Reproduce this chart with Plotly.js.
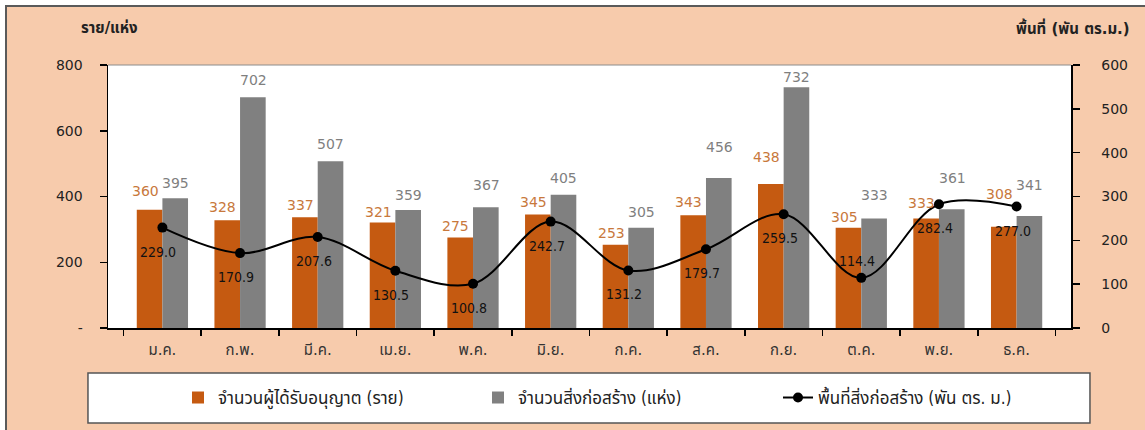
<!DOCTYPE html>
<html>
<head>
<meta charset="utf-8">
<script src="https://cdn.plot.ly/plotly-3.0.1.min.js"></script>
<style>
  html, body { margin: 0; padding: 0; background: #ffffff; overflow: hidden; width: 1145px; height: 430px; }
  #frame { position: absolute; left: 5px; top: 5px; width: 1138px; height: 423px; border-left: 2px solid #5a5a5a; border-top: 2px solid #5a5a5a; }
  #chart { width: 1138px; height: 423px; }
</style>
</head>
<body>
<div id="frame"><div id="chart"></div></div>
<script>
// ---- data ----
const months = ['ม.ค.', 'ก.พ.', 'มี.ค.', 'เม.ย.', 'พ.ค.', 'มิ.ย.', 'ก.ค.', 'ส.ค.', 'ก.ย.', 'ต.ค.', 'พ.ย.', 'ธ.ค.'];
const permits = [360, 328, 337, 321, 275, 345, 253, 343, 438, 305, 333, 308];
const buildings = [395, 702, 507, 359, 367, 405, 305, 456, 732, 333, 361, 341];
const area = [229.0, 170.9, 207.6, 130.5, 100.8, 242.7, 131.2, 179.7, 259.5, 114.4, 282.4, 277.0];
const leftTickVals = [0, 200, 400, 600, 800];
const leftTickText = ['-', '200', '400', '600', '800'];
const rightTickVals = [0, 100, 200, 300, 400, 500, 600];
const seriesNames = ['จำนวนผู้ได้รับอนุญาต (ราย)', 'จำนวนสิ่งก่อสร้าง (แห่ง)', 'พื้นที่สิ่งก่อสร้าง (พัน ตร. ม.)'];
const leftTitle = 'ราย/แห่ง';
const rightTitle = 'พื้นที่ (พัน ตร.ม.)';

// ---- label placement (style only: pixel lift of each value label above its mark) ----
const permitLabelLift = [19, 13, 12, 10, 12, 13, 12, 13, 27, 11, 16, 33];
const buildingLabelLift = [15, 17, 17, 15, 22, 17, 16, 31, 10, 24, 31, 31];
const areaLabelAbove = [false, false, false, false, false, false, false, false, false, true, false, false];

const FONT = '"DejaVu Sans", "Noto Sans Thai", "Noto Sans", sans-serif';
const FONT_COND = '"DejaVu Sans Condensed", "DejaVu Sans", "Noto Sans Thai", sans-serif';
const ORANGE = '#C55A11';
const GRAY = '#808080';

const W = 1138, H = 423;
const M = { l: 101, r: 74, t: 58, b: 102 };
const BARGAP = 0.34;
// half of one bar's pixel width (two bars per category), used to centre each value label over its bar
const halfBar = ((W - M.l - M.r) / months.length) * (1 - BARGAP) / 4;

const traces = [
  {
    type: 'bar', name: seriesNames[0], x: months, y: permits,
    marker: { color: ORANGE }
  },
  {
    type: 'bar', name: seriesNames[1], x: months, y: buildings,
    marker: { color: GRAY }
  },
  {
    type: 'scatter', mode: 'lines+markers', name: seriesNames[2], x: months, y: area, yaxis: 'y2',
    line: { color: '#000000', width: 2, shape: 'spline', smoothing: 1 },
    marker: { color: '#000000', size: 10 },
    cliponaxis: false
  }
];

const permitLabels = permits.map((v, i) => ({
  xref: 'x', yref: 'y', x: months[i], y: v, showarrow: false,
  text: String(v), xanchor: 'center', yanchor: 'middle', xshift: -halfBar - 4, yshift: permitLabelLift[i],
  font: { family: FONT, size: 14, color: '#C8783C' }
}));
const buildingLabels = buildings.map((v, i) => ({
  xref: 'x', yref: 'y', x: months[i], y: v, showarrow: false,
  text: String(v), xanchor: 'center', yanchor: 'middle', xshift: halfBar, yshift: buildingLabelLift[i],
  font: { family: FONT, size: 14, color: '#7F7F7F' }
}));
const areaLabels = area.map((v, i) => ({
  xref: 'x', yref: 'y2', x: months[i], y: v, showarrow: false,
  text: v.toFixed(1), xanchor: 'center', yanchor: 'middle',
  xshift: -4, yshift: areaLabelAbove[i] ? 17 : -24,
  font: { family: FONT_COND, size: 14, color: '#111111' }
}));

const layout = {
  width: W, height: H,
  margin: { l: M.l, r: M.r, t: M.t, b: M.b, autoexpand: false },
  paper_bgcolor: '#F7CBAC',
  plot_bgcolor: '#FFFFFF',
  font: { family: FONT, size: 14, color: '#222222' },
  barmode: 'group', bargap: BARGAP, bargroupgap: 0,
  showlegend: true,
  legend: {
    orientation: 'h', x: 0.0727, xanchor: 'left', y: -0.266, yanchor: 'middle',
    bgcolor: 'rgba(0,0,0,0)', entrywidth: 255, entrywidthmode: 'pixels', traceorder: 'normal',
    font: { family: FONT_COND, size: 17, color: '#222222' }
  },
  xaxis: {
    type: 'category', showline: true, linecolor: '#000000', linewidth: 1.5,
    ticks: 'outside', tickson: 'boundaries', ticklen: 6, tickcolor: '#000000', tickwidth: 1.5,
    ticklabelstandoff: 7, showgrid: false, zeroline: false,
    tickfont: { family: FONT, size: 15, color: '#333333' }
  },
  yaxis: {
    range: [0, 800], tickvals: leftTickVals, ticktext: leftTickText,
    showline: true, linecolor: '#000000', linewidth: 1.5,
    ticks: 'outside', ticklen: 7, tickcolor: '#000000', tickwidth: 1.5,
    ticklabelstandoff: 14, showgrid: false, zeroline: false,
    tickfont: { family: FONT, size: 14, color: '#222222' }
  },
  yaxis2: {
    range: [0, 600], tickvals: rightTickVals, overlaying: 'y', side: 'right',
    showline: true, linecolor: '#000000', linewidth: 1.5,
    ticks: 'outside', ticklen: 7, tickcolor: '#000000', tickwidth: 1.5,
    ticklabelstandoff: 19, showgrid: false, zeroline: false,
    tickfont: { family: FONT, size: 14, color: '#222222' }
  },
  shapes: [
    { type: 'rect', xref: 'paper', yref: 'paper', x0: -0.0208, x1: 1.0197, y0: -0.361, y1: -0.171,
      fillcolor: '#FFFFFF', line: { color: '#555555', width: 1.5 }, layer: 'below' },
    { type: 'line', xref: 'paper', yref: 'paper', x0: 0, x1: 1, y0: 1, y1: 1,
      line: { color: '#8c8c8c', width: 1 }, layer: 'above' }
  ],
  annotations: [
    { xref: 'paper', yref: 'paper', x: 0.002, y: 1.14, xanchor: 'center', yanchor: 'middle', showarrow: false,
      text: '<b>' + leftTitle + '</b>', font: { family: FONT, size: 15, color: '#222222' } },
    { xref: 'paper', yref: 'paper', x: 1.063, y: 1.14, xanchor: 'right', yanchor: 'middle', showarrow: false,
      text: '<b>' + rightTitle + '</b>', font: { family: FONT, size: 15, color: '#222222' } }
  ].concat(permitLabels, buildingLabels, areaLabels)
};

Plotly.newPlot('chart', traces, layout, { displayModeBar: false, staticPlot: true });
</script>
</body>
</html>
